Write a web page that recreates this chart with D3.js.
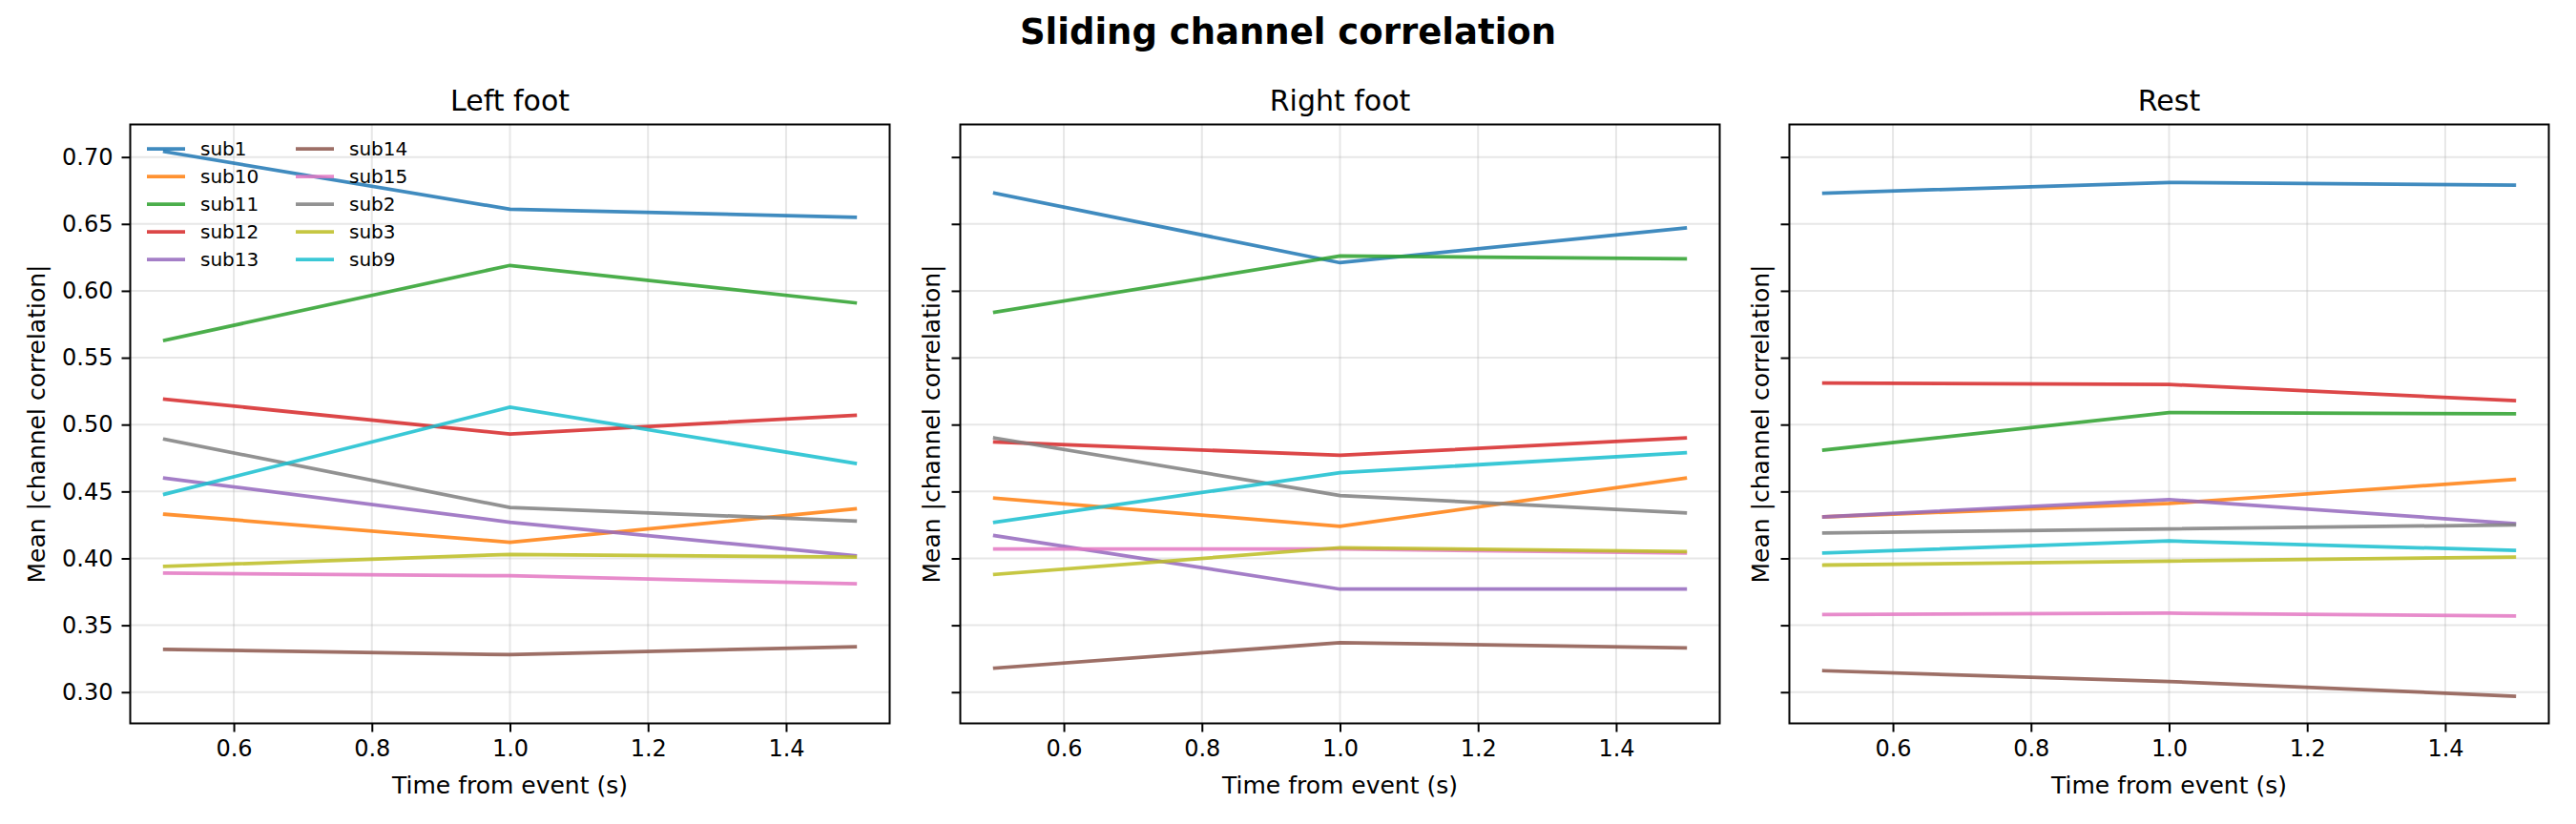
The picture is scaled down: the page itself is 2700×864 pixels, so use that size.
<!DOCTYPE html>
<html>
<head>
<meta charset="utf-8">
<script src="https://cdn.jsdelivr.net/npm/d3@7"></script>
<style>
    body { margin: 0; background: #fff; }
    svg text { font-family: "DejaVu Sans", sans-serif; fill: #000; }
</style>
</head>
<body>
<div id="chart"></div>
<script>
// subjects in legend / plotting order
const subjects = ["sub1", "sub10", "sub11", "sub12", "sub13", "sub14", "sub15", "sub2", "sub3", "sub9"];
const times = [0.5, 1.0, 1.5];
const panelTitles = ["Left foot", "Right foot", "Rest"];
const xTicks = [0.6, 0.8, 1.0, 1.2, 1.4];
const yTicks = [0.30, 0.35, 0.40, 0.45, 0.50, 0.55, 0.60, 0.65, 0.70];

// mean |channel correlation| at each time, one row per subject (same order as subjects)
const leftFoot = [
    [0.704, 0.661, 0.655],
    [0.433, 0.412, 0.437],
    [0.563, 0.619, 0.591],
    [0.519, 0.493, 0.507],
    [0.460, 0.427, 0.402],
    [0.332, 0.328, 0.334],
    [0.389, 0.387, 0.381],
    [0.489, 0.438, 0.428],
    [0.394, 0.403, 0.401],
    [0.448, 0.513, 0.471]
];
const rightFoot = [
    [0.673, 0.621, 0.647],
    [0.445, 0.424, 0.460],
    [0.584, 0.626, 0.624],
    [0.487, 0.477, 0.490],
    [0.417, 0.377, 0.377],
    [0.318, 0.337, 0.333],
    [0.407, 0.407, 0.404],
    [0.490, 0.447, 0.434],
    [0.388, 0.408, 0.405],
    [0.427, 0.464, 0.479]
];
const rest = [
    [0.673, 0.681, 0.679],
    [0.431, 0.441, 0.459],
    [0.481, 0.509, 0.508],
    [0.531, 0.530, 0.518],
    [0.431, 0.444, 0.426],
    [0.316, 0.308, 0.297],
    [0.358, 0.359, 0.357],
    [0.419, 0.422, 0.425],
    [0.395, 0.398, 0.401],
    [0.404, 0.413, 0.406]
];
const panelData = [leftFoot, rightFoot, rest];

const colours = d3.schemeCategory10;

const width = 2700, height = 864;
const panelLeft = [136.5, 1006.5, 1875.5];
const panelW = 796;
const plotTop = 130.5, plotBottom = 758.5;

const svg = d3.select("#chart")
    .append("svg")
    .attr("width", width)
    .attr("height", height);

svg.append("text")
    .attr("x", width / 2)
    .attr("y", 46)
    .attr("text-anchor", "middle")
    .style("font-size", "37px")
    .style("font-weight", "bold")
    .text("Sliding channel correlation");

// matplotlib style 5% padding on both axes, y shared across panels
const allVals = panelData.flat(2);
const yMin = d3.min(allVals), yMax = d3.max(allVals);
const yPad = (yMax - yMin) * 0.05;
const y = d3.scaleLinear()
    .domain([yMin - yPad, yMax + yPad])
    .range([plotBottom, plotTop]);

const xPad = (d3.max(times) - d3.min(times)) * 0.05;

panelData.forEach((rows, p) => {
    const x = d3.scaleLinear()
        .domain([d3.min(times) - xPad, d3.max(times) + xPad])
        .range([panelLeft[p], panelLeft[p] + panelW]);

    const g = svg.append("g");

    // grid
    g.selectAll(".xgrid").data(xTicks).enter().append("line")
        .attr("x1", d => x(d)).attr("x2", d => x(d))
        .attr("y1", plotTop).attr("y2", plotBottom)
        .attr("stroke", "#b0b0b0").attr("stroke-opacity", 0.3).attr("stroke-width", 2);
    g.selectAll(".ygrid").data(yTicks).enter().append("line")
        .attr("x1", panelLeft[p]).attr("x2", panelLeft[p] + panelW)
        .attr("y1", d => y(d)).attr("y2", d => y(d))
        .attr("stroke", "#b0b0b0").attr("stroke-opacity", 0.3).attr("stroke-width", 2);

    // lines
    const line = d3.line()
        .x((d, i) => x(times[i]))
        .y(d => y(d));
    g.selectAll(".series").data(rows).enter().append("path")
        .attr("d", line)
        .attr("fill", "none")
        .attr("stroke", (d, i) => colours[i])
        .attr("stroke-opacity", 0.85)
        .attr("stroke-width", 3.75)
        .attr("stroke-linecap", "square");

    // axes
    const xAxis = d3.axisBottom(x)
        .tickValues(xTicks)
        .tickFormat(d3.format(".1f"))
        .tickSize(9)
        .tickPadding(8);
    const xg = g.append("g")
        .attr("transform", `translate(0, ${plotBottom})`)
        .call(xAxis);
    xg.select(".domain").remove();
    xg.selectAll(".tick line").attr("stroke-width", 2);
    xg.selectAll(".tick text").style("font-size", "24px").style("font-family", "DejaVu Sans");

    const yAxis = d3.axisLeft(y)
        .tickValues(yTicks)
        .tickFormat(p === 0 ? d3.format(".2f") : "")
        .tickSize(9)
        .tickPadding(9);
    const yg = g.append("g")
        .attr("transform", `translate(${panelLeft[p]}, 0)`)
        .call(yAxis);
    yg.select(".domain").remove();
    yg.selectAll(".tick line").attr("stroke-width", 2);
    yg.selectAll(".tick text").style("font-size", "24px").style("font-family", "DejaVu Sans");

    // frame
    g.append("rect")
        .attr("x", panelLeft[p]).attr("y", plotTop)
        .attr("width", panelW).attr("height", plotBottom - plotTop)
        .attr("fill", "none").attr("stroke", "#000").attr("stroke-width", 2);

    // titles and labels
    g.append("text")
        .attr("x", panelLeft[p] + panelW / 2)
        .attr("y", plotTop - 15)
        .attr("text-anchor", "middle")
        .style("font-size", "30px")
        .text(panelTitles[p]);

    g.append("text")
        .attr("x", panelLeft[p] + panelW / 2)
        .attr("y", 832)
        .attr("text-anchor", "middle")
        .style("font-size", "25px")
        .text("Time from event (s)");

    const labelX = p === 0 ? 38 : panelLeft[p] - 30;
    g.append("text")
        .attr("transform", `translate(${labelX}, ${(plotTop + plotBottom) / 2}) rotate(-90)`)
        .attr("text-anchor", "middle")
        .attr("dy", "0.35em")
        .style("font-size", "25px")
        .text("Mean |channel correlation|");
});

// legend, two columns in the first panel
const legend = svg.append("g");
const perCol = 5;
const colX = [154, 310];
subjects.forEach((s, i) => {
    const cx = colX[Math.floor(i / perCol)];
    const cy = 156 + (i % perCol) * 29;
    legend.append("line")
        .attr("x1", cx).attr("x2", cx + 40)
        .attr("y1", cy).attr("y2", cy)
        .attr("stroke", colours[i])
        .attr("stroke-opacity", 0.85)
        .attr("stroke-width", 3.75);
    legend.append("text")
        .attr("x", cx + 56)
        .attr("y", cy)
        .attr("dy", "0.35em")
        .style("font-size", "20px")
        .text(s);
});
</script>
</body>
</html>
